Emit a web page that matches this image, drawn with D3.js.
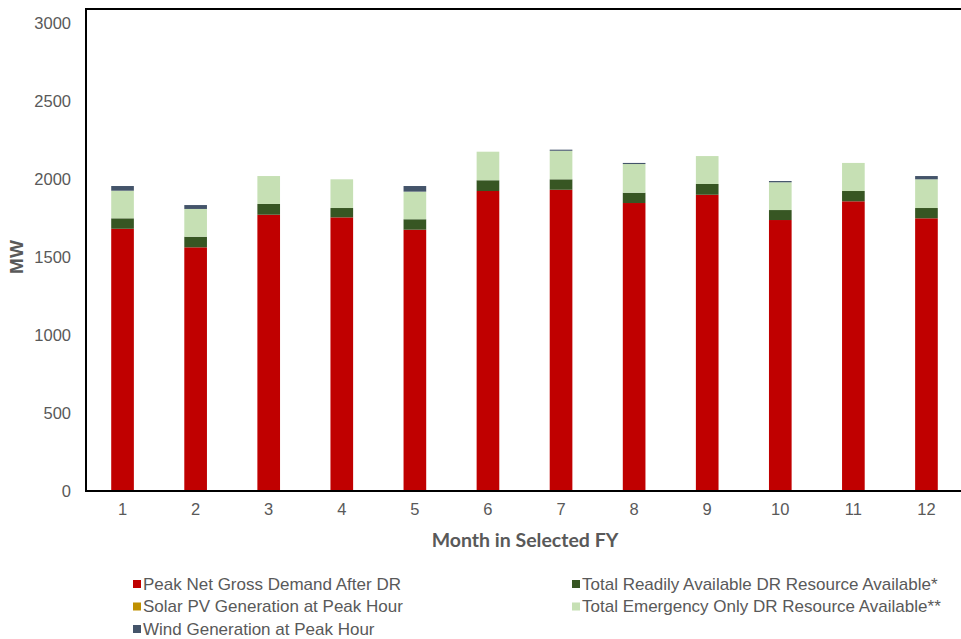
<!DOCTYPE html>
<html>
<head>
<meta charset="utf-8">
<script src="https://cdn.jsdelivr.net/npm/d3@7"></script>
<style>
  html, body { margin: 0; padding: 0; background: #fff; }
  svg { display: block; }
  text { font-family: "Liberation Sans", Arial, sans-serif; }
</style>
</head>
<body>
<svg id="chart" width="961" height="639"></svg>
<script>
// Months of the fiscal year
const months = ["1", "2", "3", "4", "5", "6", "7", "8", "9", "10", "11", "12"];

// Stacked components (MW)
const peakNetDemand   = [1681, 1562, 1771, 1754, 1675, 1923, 1931, 1846, 1899, 1737, 1857, 1748];
const readilyDR       = [67, 68, 69, 60, 67, 69, 67, 66, 69, 64, 66, 66];
const solarPV         = [0, 0, 0, 0, 0, 0, 0, 0, 0, 0, 0, 0];
const emergencyDR     = [177, 178, 179, 184, 177, 183, 183, 184, 179, 178, 180, 184];
const windGeneration  = [30, 25, 0, 0, 36, 0, 7, 7, 0, 8, 0, 21];

const yTicks = [0, 500, 1000, 1500, 2000, 2500, 3000];

const seriesNames = [
  "Peak Net Gross Demand After DR",
  "Total Readily Available DR Resource Available*",
  "Solar PV Generation at Peak Hour",
  "Total Emergency Only DR Resource Available**",
  "Wind Generation at Peak Hour"
];
const seriesColors = ["#C00000", "#375623", "#BF9000", "#C6E0B4", "#44546A"];
const seriesValues = [peakNetDemand, readilyDR, solarPV, emergencyDR, windGeneration];

const rows = months.map((m, i) => {
  const r = { month: m };
  seriesNames.forEach((s, k) => { r[s] = seriesValues[k][i]; });
  return r;
});

const stacked = d3.stack().keys(seriesNames)(rows);

const svg = d3.select("#chart");
const plot = { left: 86, top: 9, right: 963, bottom: 491 };

const x = d3.scaleBand()
  .domain(months)
  .range([plot.left, plot.right])
  .paddingInner(0.69)
  .paddingOuter(0.345);

const y = d3.scaleLinear()
  .domain([0, 3000])
  .range([plot.bottom, 23]);

// Bars
svg.append("g")
  .selectAll("g")
  .data(stacked)
  .join("g")
  .attr("fill", (d, i) => seriesColors[i])
  .selectAll("rect")
  .data(d => d)
  .join("rect")
  .attr("x", d => x(d.data.month))
  .attr("width", x.bandwidth())
  .attr("y", d => y(d[1]))
  .attr("height", d => y(d[0]) - y(d[1]));

// Frame: top and left borders plus the baseline
svg.append("line")
  .attr("x1", plot.left).attr("x2", 961)
  .attr("y1", plot.top).attr("y2", plot.top)
  .attr("stroke", "#000").attr("stroke-width", 2);
svg.append("line")
  .attr("x1", plot.left).attr("x2", plot.left)
  .attr("y1", plot.top - 1).attr("y2", plot.bottom + 1)
  .attr("stroke", "#000").attr("stroke-width", 2);

// Y axis
const yAxis = svg.append("g")
  .attr("transform", `translate(${plot.left},0)`)
  .call(d3.axisLeft(y).tickValues(yTicks).tickSize(0).tickPadding(15).tickFormat(d3.format("d")));
yAxis.select(".domain").remove();
yAxis.selectAll("text")
  .attr("fill", "#595959")
  .style("font-size", "16.5px")
  .style("font-family", "'Liberation Sans', Arial, sans-serif");

// X axis
const xAxis = svg.append("g")
  .attr("transform", `translate(0,${plot.bottom})`)
  .call(d3.axisBottom(x).tickSize(0).tickPadding(12));
xAxis.select(".domain")
  .attr("d", `M${plot.left},0H961`)
  .attr("stroke", "#000").attr("stroke-width", 2);
xAxis.selectAll("text")
  .attr("fill", "#595959")
  .style("font-size", "16.5px")
  .style("font-family", "'Liberation Sans', Arial, sans-serif");

// Axis titles
svg.append("text")
  .attr("transform", "translate(23,257) rotate(-90)")
  .attr("text-anchor", "middle")
  .attr("fill", "#595959")
  .style("font-size", "19px")
  .style("font-weight", "bold")
  .text("MW");

svg.append("text")
  .attr("x", 525).attr("y", 547)
  .attr("text-anchor", "middle")
  .attr("fill", "#595959")
  .style("font-family", "Lato, 'Open Sans', sans-serif")
  .style("font-size", "19.5px")
  .style("font-weight", "bold")
  .text("Month in Selected FY");

// Legend (two columns, filled row by row)
const legendPos = [
  [133, 584], [572, 584],
  [133, 606.5], [572, 606.5],
  [133, 629]
];
const legend = svg.append("g")
  .selectAll("g")
  .data(seriesNames)
  .join("g")
  .attr("transform", (d, i) => `translate(${legendPos[i][0]},${legendPos[i][1]})`);
legend.append("rect")
  .attr("x", 0).attr("y", -4)
  .attr("width", 8).attr("height", 8)
  .attr("fill", (d, i) => seriesColors[i]);
legend.append("text")
  .attr("x", 10).attr("y", 0)
  .attr("dy", "0.35em")
  .attr("fill", "#595959")
  .style("font-size", "17px")
  .text(d => d);
</script>
</body>
</html>
